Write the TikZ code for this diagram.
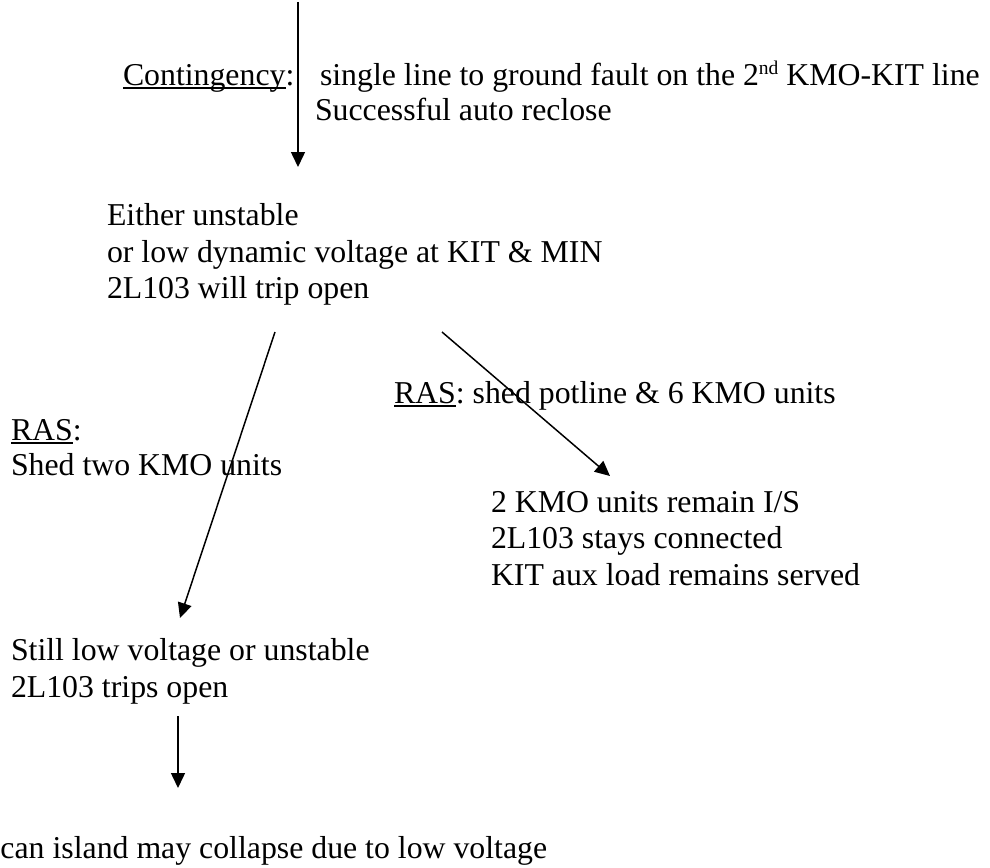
\documentclass[tikz,border=0pt]{standalone}
\usepackage{fontspec}
\setmainfont{Liberation Serif}
\usetikzlibrary{arrows.meta}
\newlength\myulwidth
\newcommand\myul[1]{\settowidth{\myulwidth}{#1}\rlap{\rule[-4pt]{\myulwidth}{1.6pt}}#1}
\newcommand\mysup[1]{\raisebox{11pt}{\fontsize{19.5}{20}\selectfont #1}}
\begin{document}
\begin{tikzpicture}[x=1pt,y=-1pt,
  txt/.style={anchor=base west, inner sep=0pt, outer sep=0pt, font=\fontsize{31.8}{36}\selectfont},
  arr/.style={line width=1.5pt, -{Triangle[length=15pt,width=14pt]}}]
\useasboundingbox (0,0) rectangle (990,867);

% texts
\node[txt] (ctg)  at (123,85)  {\myul{Contingency}:};
\node[txt] (ctgA) at (320,85)  {single line to ground fault on the 2\mysup{nd} KMO-KIT line};
\node[txt] (ctgB) at (315,120) {Successful auto reclose};

\node[txt] (eA) at (107,225) {Either unstable};
\node[txt] (eB) at (107,262) {or low dynamic voltage at KIT \& MIN};
\node[txt] (eC) at (107,298) {2L103 will trip open};

\node[txt] (rasR) at (394,403) {\myul{RAS}: shed potline \& 6 KMO units};
\node[txt] (rasL) at (11,440)  {\myul{RAS}:};
\node[txt] (rasL2) at (11,475) {Shed two KMO units};

\node[txt] (okA) at (491,512) {2 KMO units remain I/S};
\node[txt] (okB) at (491,548) {2L103 stays connected};
\node[txt] (okC) at (491,585) {KIT aux load remains served};

\node[txt] (stA) at (11,660) {Still low voltage or unstable};
\node[txt] (stB) at (11,697) {2L103 trips open};

\node[txt] (col) at (0.5,858) {can island may collapse due to low voltage};

% connector end points
\coordinate (a1s) at (298,2);
\coordinate (a1e) at (298,167);
\coordinate (a2s) at (275,332);
\coordinate (a2e) at (180,618);
\coordinate (a3s) at (442,332);
\coordinate (a3e) at (610,476);
\coordinate (a4s) at (178,716);
\coordinate (a4e) at (178,788);

\draw[arr] (a1s) -- (a1e);
\draw[arr] (a2s) -- (a2e);
\draw[arr] (a3s) -- (a3e);
\draw[arr] (a4s) -- (a4e);
\end{tikzpicture}
\end{document}
